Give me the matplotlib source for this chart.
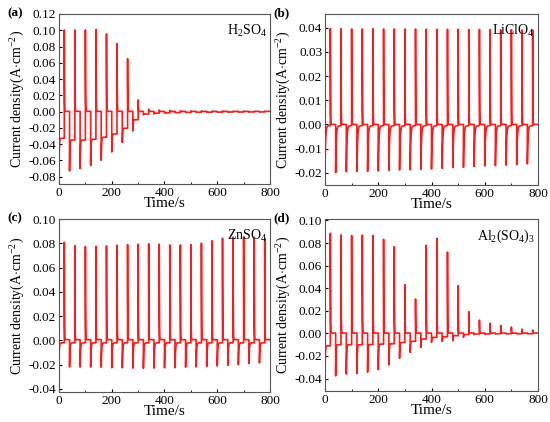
import numpy as np
import matplotlib
matplotlib.use("Agg")
import matplotlib.pyplot as plt
from matplotlib.ticker import MultipleLocator

plt.rcParams['font.family'] = ['Liberation Serif', 'DejaVu Serif']
plt.rcParams['mathtext.fontset'] = 'custom'
plt.rcParams['mathtext.rm'] = 'Liberation Serif'
plt.rcParams['mathtext.it'] = 'Liberation Serif:italic'

# pulse times: cathodic pulses start at 0, 40, ... ; anodic at 20, 60, ...
cat_times = np.arange(0, 800, 40)
ano_times = np.arange(20, 800, 40)

# (a) H2SO4
a_ano_peak = [0.1003, 0.1003, 0.1003, 0.101, 0.0954, 0.0835, 0.065, 0.0143, 0.003, 0.002,
              0.0015, 0.0012, 0.001, 0.001, 0.0008, 0.0008, 0.0007, 0.0007, 0.0006, 0.0006]
a_ano_rest = [0.0003] * 20
a_cat_peak = [-0.071, -0.0729, -0.070, -0.0663, -0.0598, -0.0496, -0.038, -0.0238, -0.004, -0.003,
              -0.002, -0.0015, -0.0012, -0.001, -0.001, -0.0008, -0.0008, -0.0007, -0.0006, -0.0006]
a_cat_rest = [-0.0328, -0.035, -0.035, -0.034, -0.0315, -0.0274, -0.0205, -0.010, -0.003, -0.002,
              -0.0015, -0.0012, -0.001, -0.0008, -0.0007, -0.0006, -0.0005, -0.0005, -0.0004, -0.0004]

# (b) LiClO4
b_ano_peak = [0.0395, 0.0395, 0.0394, 0.0394, 0.0395, 0.0394, 0.0394, 0.0394, 0.0394, 0.0393,
              0.0393, 0.0393, 0.0393, 0.0392, 0.0392, 0.0391, 0.0391, 0.0391, 0.039, 0.039]
b_ano_rest = [0.0] * 20
b_cat_peak = [-0.018, -0.0199, -0.0195, -0.0194, -0.0194, -0.0192, -0.019, -0.0188, -0.0187, -0.0185,
              -0.0184, -0.0181, -0.0178, -0.0177, -0.0174, -0.0171, -0.017, -0.0168, -0.0166, -0.0163]
b_cat_rest = [-0.0005] * 20

# (c) ZnSO4
c_ano_peak = [0.0808, 0.078, 0.0773, 0.0775, 0.0778, 0.0784, 0.0789, 0.0792, 0.0795, 0.0792,
              0.0786, 0.0786, 0.0789, 0.080, 0.082, 0.0841, 0.085, 0.0852, 0.085, 0.0838]
c_ano_rest = [0.0006] * 20
c_cat_peak = [-0.0137, -0.0219, -0.0219, -0.0219, -0.022, -0.0225, -0.0225, -0.0228, -0.023, -0.0228,
              -0.0225, -0.0225, -0.022, -0.0218, -0.0215, -0.021, -0.0205, -0.020, -0.019, -0.0186]
c_cat_rest = [-0.002] * 20

# (d) Al2(SO4)3
d_ano_peak = [0.0886, 0.0872, 0.0866, 0.087, 0.0866, 0.0833, 0.0768, 0.0431, 0.0304, 0.078,
              0.0842, 0.072, 0.0422, 0.0192, 0.0118, 0.0089, 0.0071, 0.0056, 0.0038, 0.003]
d_ano_rest = [0.0003] * 20
d_cat_peak = [-0.037, -0.0375, -0.036, -0.0355, -0.0343, -0.032, -0.028, -0.022, -0.0168, -0.0124,
              -0.008, -0.007, -0.0065, -0.0035, -0.0012, -0.0008, -0.0006, -0.0005, -0.0004, -0.0004]
d_cat_rest = [-0.011, -0.010, -0.010, -0.010, -0.0098, -0.0095, -0.0092, -0.008, -0.007, -0.005,
              -0.0035, -0.003, -0.002, -0.001, -0.0005, -0.0004, -0.0003, -0.0003, -0.0003, -0.0003]

panels = [
    ("(a)", "H$_2$SO$_4$", a_ano_peak, a_ano_rest, a_cat_peak, a_cat_rest, (-0.089, 0.12), 0.02, 1.2),
    ("(b)", "LiClO$_4$", b_ano_peak, b_ano_rest, b_cat_peak, b_cat_rest, (-0.025, 0.0456), 0.01, 2.2),
    ("(c)", "ZnSO$_4$", c_ano_peak, c_ano_rest, c_cat_peak, c_cat_rest, (-0.0425, 0.10), 0.02, 1.6),
    ("(d)", "Al$_2$(SO$_4$)$_3$", d_ano_peak, d_ano_rest, d_cat_peak, d_cat_rest, (-0.051, 0.1013), 0.02, 1.2),
]


def transient(ano_peak, ano_rest, cat_peak, cat_rest, tau_cat, tau_ano=0.6, dt=0.05):
    """Builds the step response from the read peak / rest values."""
    ts, ys = [], []
    for i in range(20):
        for t0, pk, rs, tau in ((cat_times[i], cat_peak[i], cat_rest[i], tau_cat),
                                (ano_times[i], ano_peak[i], ano_rest[i], tau_ano)):
            t = np.arange(0, 20, dt)
            ts.append(t0 + t)
            ys.append(rs + (pk - rs) * np.exp(-t / tau))
    return np.concatenate(ts), np.concatenate(ys)


fig = plt.figure(figsize=(5.5, 4.22), dpi=100)
boxes = [(59, 14, 270, 184), (325, 14, 538, 185), (59, 219, 270, 392), (325, 219, 538, 391)]

for (label, name, ap, ar, cp, cr, ylim, ystep, tau_c), (x0, y0, x1, y1) in zip(panels, boxes):
    ax = fig.add_axes([x0 / 550, 1 - y1 / 422, (x1 - x0) / 550, (y1 - y0) / 422])
    t, y = transient(ap, ar, cp, cr, tau_c)
    ax.plot(t, y, color='#ff1a1a', lw=1.2)
    ax.set_xlim(0, 800)
    ax.set_ylim(*ylim)
    ax.xaxis.set_major_locator(MultipleLocator(200))
    ax.xaxis.set_minor_locator(MultipleLocator(100))
    ax.yaxis.set_major_locator(MultipleLocator(ystep))
    ax.yaxis.set_major_formatter(plt.FormatStrFormatter('%.2f'))
    ax.tick_params(which='both', direction='in', labelsize=9.5, pad=2)
    ax.tick_params(which='major', length=2.5)
    ax.tick_params(which='minor', length=1.5)
    for s in ax.spines.values():
        s.set_color('#555555')
        s.set_linewidth(0.8)
    ax.set_xlabel("Time/s", fontsize=11, labelpad=-1)
    ax.set_ylabel("Current density(A$\\cdot$cm$^{-2}$)", fontsize=10, labelpad=1)
    ax.text(0.985, 0.95, name, transform=ax.transAxes, ha='right', va='top', fontsize=10)
    fig.text((x0 - 52) / 550, 1 - (y0 - 1) / 422, label, ha='left', va='center',
             fontsize=9.5, fontweight='bold')

fig.savefig("out.png", dpi=100)
